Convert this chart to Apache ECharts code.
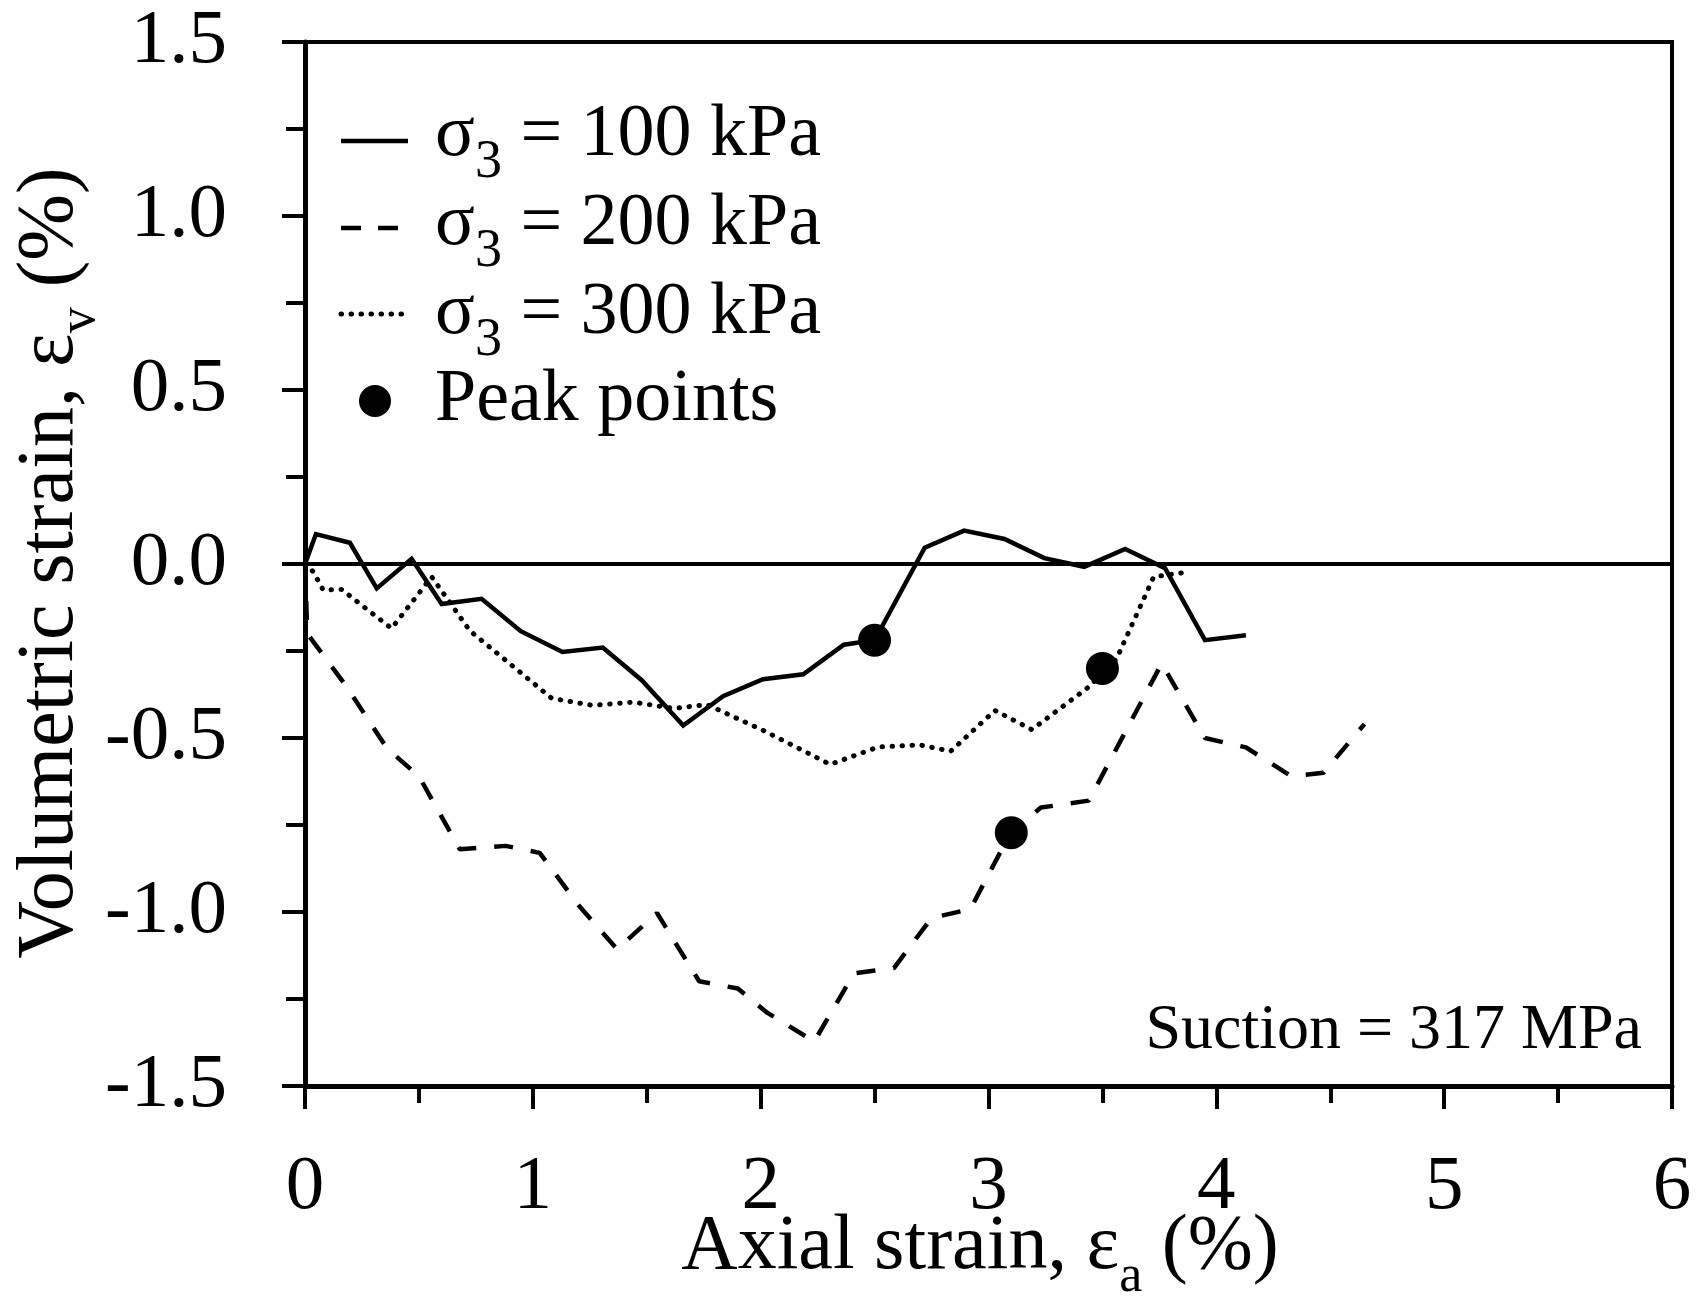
<!DOCTYPE html>
<html>
<head>
<meta charset="utf-8">
<script src="https://cdn.jsdelivr.net/npm/echarts@6/dist/echarts.min.js"></script>
<style>
html,body{margin:0;padding:0;background:#fff;}
#chart{width:1697px;height:1310px;}
</style>
</head>
<body>
<div id="chart"></div>
<script>
// ---- data ----
const xTicks = [0, 1, 2, 3, 4, 5, 6];
const yTicks = [-1.5, -1.0, -0.5, 0.0, 0.5, 1.0, 1.5];

const s100x = [0, 0.048, 0.197, 0.315, 0.468, 0.60, 0.775, 0.947, 1.13, 1.307, 1.478, 1.66, 1.835, 2.01, 2.187, 2.365, 2.50, 2.72, 2.893, 3.07, 3.245, 3.42, 3.60, 3.775, 3.95, 4.13];
const s100y = [0, 0.086, 0.061, -0.07, 0.015, -0.115, -0.10, -0.193, -0.253, -0.24, -0.334, -0.464, -0.38, -0.331, -0.317, -0.232, -0.219, 0.047, 0.096, 0.072, 0.017, -0.008, 0.043, -0.012, -0.219, -0.205];

const s200x = [0, 0.01, 0.18, 0.36, 0.50, 0.68, 0.88, 1.03, 1.20, 1.37, 1.545, 1.73, 1.90, 2.03, 2.235, 2.41, 2.585, 2.75, 2.92, 3.097, 3.23, 3.44, 3.76, 3.95, 4.13, 4.33, 4.47, 4.65];
const s200y = [0, -0.20, -0.35, -0.53, -0.61, -0.82, -0.81, -0.83, -0.98, -1.107, -1.003, -1.199, -1.22, -1.29, -1.372, -1.176, -1.161, -1.017, -0.992, -0.772, -0.70, -0.68, -0.286, -0.50, -0.527, -0.61, -0.60, -0.46];

const s300x = [0, 0.036, 0.08, 0.16, 0.38, 0.556, 0.724, 1.083, 1.26, 1.44, 1.62, 1.765, 2.01, 2.305, 2.515, 2.70, 2.834, 3.028, 3.19, 3.455, 3.50, 3.56, 3.725, 3.855];
const s300y = [0, -0.022, -0.075, -0.073, -0.185, -0.037, -0.192, -0.386, -0.406, -0.397, -0.415, -0.404, -0.478, -0.576, -0.526, -0.52, -0.538, -0.421, -0.476, -0.346, -0.30, -0.275, -0.037, -0.025];

const peakX = [2.50, 3.10, 3.50];
const peakY = [-0.219, -0.772, -0.30];

const legendNames = ['100 kPa', '200 kPa', '300 kPa'];
const suctionText = 'Suction = 317 MPa';

// ---- helpers ----
const FONT = '"Liberation Serif", "Times New Roman", serif';
const zip = (xs, ys) => xs.map((x, i) => [x, ys[i]]);
const mctx = document.createElement('canvas').getContext('2d');
function measure(t, size) { mctx.font = size + 'px ' + FONT; return mctx.measureText(t).width; }
// parts: [text, size, dyBaseline]
function pieces(parts, x0, baseline, align) {
  const widths = parts.map(p => measure(p[0], p[1]));
  const W = widths.reduce((a, b) => a + b, 0);
  let cur = align === 'center' ? x0 - W / 2 : (align === 'right' ? x0 - W : x0);
  const out = [];
  parts.forEach((p, i) => {
    out.push({
      type: 'text', x: cur, y: baseline + p[2] - 0.3375 * p[1], silent: true,
      style: { text: p[0], font: p[1] + 'px ' + FONT, fill: '#000',
        align: 'left', verticalAlign: 'middle', textAlign: 'left', textVerticalAlign: 'middle' }
    });
    cur += widths[i];
  });
  return out;
}

const chart = echarts.init(document.getElementById('chart'), null, { renderer: 'canvas' });

const graphics = [];
// y-axis title (rotated)
graphics.push({
  type: 'group', x: 78, y: 563, rotation: Math.PI / 2,
  children: pieces([['Volumetric strain, \u03b5', 80, 0], ['v', 52, 20], [' (%)', 80, 0]], 0, 0, 'center')
});
// x-axis title
pieces([['Axial strain, \u03b5', 78, 0], ['a', 52, 21], [' (%)', 78, 0]], 980, 1274, 'center').forEach(g => graphics.push(g));
// suction annotation
pieces([[suctionText, 64, 0]], 1642, 1053, 'right').forEach(g => graphics.push(g));
// legend
const legBase = [161, 250, 339];
const legY = [141, 228, 314];
const legDash = [null, [20, 17], [0.5, 9.5]];
legendNames.forEach((nm, i) => {
  graphics.push({
    type: 'line', silent: true,
    shape: { x1: 341, y1: legY[i], x2: i === 1 ? 400 : 408, y2: legY[i] },
    style: { stroke: '#000', lineWidth: i === 2 ? 5 : 4.5, lineDash: legDash[i] || null, lineCap: i === 2 ? 'round' : 'butt' }
  });
  pieces([['\u03c3', 74, 0], ['3', 54, 20], [' = ' + nm, 74, 0]], 435, legBase[i], 'left').forEach(g => graphics.push(g));
});
graphics.push({ type: 'circle', silent: true, shape: { cx: 375, cy: 401, r: 16 }, style: { fill: '#000' } });
pieces([['Peak points', 74, 0]], 435, 426, 'left').forEach(g => graphics.push(g));

const axisFont = { fontFamily: FONT, fontSize: 77, color: '#000' };

chart.setOption({
  animation: false,
  backgroundColor: '#fff',
  grid: { left: 305, top: 42, width: 1367, height: 1044, show: true, borderColor: '#000', borderWidth: 4, backgroundColor: 'transparent' },
  xAxis: {
    type: 'value', min: xTicks[0], max: xTicks[xTicks.length - 1], interval: 1,
    axisLine: { show: true, onZero: false, lineStyle: { color: '#000', width: 5 } },
    axisTick: { show: true, inside: false, length: 23, lineStyle: { color: '#000', width: 4 } },
    minorTick: { show: true, splitNumber: 2, length: 17, lineStyle: { color: '#000', width: 4 } },
    splitLine: { show: false }, minorSplitLine: { show: false },
    axisLabel: Object.assign({ margin: 63, formatter: v => String(v) }, axisFont)
  },
  yAxis: {
    type: 'value', min: yTicks[0], max: yTicks[yTicks.length - 1], interval: 0.5,
    axisLine: { show: true, onZero: false, lineStyle: { color: '#000', width: 5 } },
    axisTick: { show: true, inside: false, length: 23, lineStyle: { color: '#000', width: 4 } },
    minorTick: { show: true, splitNumber: 2, length: 19, lineStyle: { color: '#000', width: 4 } },
    splitLine: { show: false }, minorSplitLine: { show: false },
    axisLabel: Object.assign({ margin: 78, formatter: v => v.toFixed(1) }, axisFont)
  },
  series: [
    {
      name: legendNames[0], type: 'line', data: zip(s100x, s100y), symbol: 'none', showSymbol: false,
      lineStyle: { color: '#000', width: 4.5, type: 'solid', join: 'miter' }, z: 3,
      markLine: { silent: true, symbol: ['none', 'none'], label: { show: false },
        lineStyle: { color: '#000', width: 4, type: 'solid' }, data: [{ yAxis: 0 }] }
    },
    {
      name: legendNames[1], type: 'line', data: zip(s200x, s200y), symbol: 'none', showSymbol: false,
      lineStyle: { color: '#000', width: 4.5, type: [19, 18], cap: 'butt' }, z: 3
    },
    {
      name: legendNames[2], type: 'line', data: zip(s300x, s300y), symbol: 'none', showSymbol: false,
      lineStyle: { color: '#000', width: 5, type: [0.5, 9.5], cap: 'round' }, z: 3
    },
    {
      name: 'Peak points', type: 'scatter', data: zip(peakX, peakY), symbol: 'circle', symbolSize: 33,
      itemStyle: { color: '#000', opacity: 1 }, z: 5
    }
  ],
  graphic: graphics
});
</script>
</body>
</html>
